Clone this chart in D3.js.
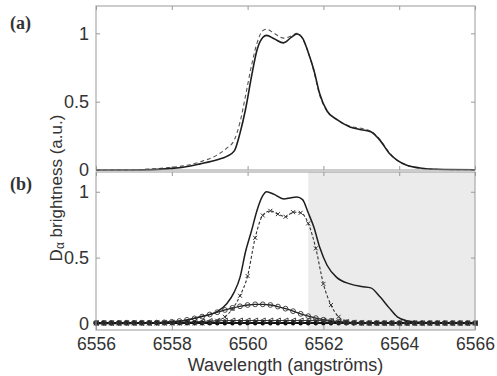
<!DOCTYPE html>
<html><head><meta charset="utf-8">
<script src="https://cdn.jsdelivr.net/npm/d3@7"></script>
<style>
html,body{margin:0;padding:0;background:#fff;}
svg{display:block;}
text{font-family:"Liberation Sans",Arial,sans-serif;fill:#333;}
</style></head>
<body>
<svg id="c" width="497" height="376"></svg>
<script>
// ---- data ----
const xTicks = [6556, 6558, 6560, 6562, 6564, 6566];
const yTicks = [0, 0.5, 1];
const shadeStart = 6561.6;

// panel (a): measured (solid) and fitted (dashed) spectra
const waveA = [6556,6557,6557.5,6558,6558.3,6558.75,6559.2,6559.45,6559.65,6559.8,6559.95,6560.1,6560.25,6560.4,6560.5,6560.7,6560.95,6561.15,6561.3,6561.45,6561.6,6561.75,6561.9,6562.1,6562.35,6562.7,6563.0,6563.25,6563.5,6563.73,6563.95,6564.2,6564.55,6565,6566];
const measuredA = [0,0,0.003,0.012,0.02,0.045,0.075,0.1,0.14,0.27,0.45,0.68,0.88,0.97,0.985,0.96,0.93,0.97,0.995,0.965,0.86,0.73,0.56,0.43,0.37,0.315,0.295,0.28,0.215,0.125,0.07,0.035,0.015,0.005,0.002];
const fittedA   = [0,0.002,0.008,0.02,0.03,0.06,0.11,0.16,0.22,0.35,0.55,0.76,0.93,1.02,1.03,1.0,0.965,0.98,1.0,0.96,0.86,0.72,0.55,0.43,0.37,0.32,0.305,0.285,0.22,0.13,0.07,0.035,0.013,0.004,0.002];

// panel (b): total spectrum (solid)
const totalB = [0,0,0.003,0.012,0.02,0.05,0.09,0.15,0.24,0.35,0.55,0.7,0.86,0.97,1.0,0.98,0.945,0.955,0.96,0.94,0.84,0.73,0.58,0.44,0.35,0.3,0.28,0.27,0.2,0.12,0.05,0.02,0.008,0.003,0];

// panel (b): component grid
const gridB = [6556,6556.2,6556.4,6556.6,6556.8,6557,6557.2,6557.4,6557.6,6557.8,6558,6558.2,6558.4,6558.6,6558.8,6559,6559.2,6559.4,6559.6,6559.8,6560,6560.2,6560.4,6560.6,6560.8,6561,6561.2,6561.4,6561.6,6561.8,6562,6562.2,6562.4,6562.6,6562.8,6563,6563.2,6563.4,6563.6,6563.8,6564,6564.2,6564.4,6564.6,6564.8,6565,6565.2,6565.4,6565.6,6565.8,6566];
const narrowB = [0,0,0,0,0,0,0,0,0,0,0,0,0,0,0,0.005,0.02,0.05,0.11,0.21,0.36,0.65,0.82,0.855,0.83,0.81,0.845,0.84,0.76,0.57,0.3,0.14,0.05,0.015,0.003,0,0,0,0,0,0,0,0,0,0,0,0,0,0,0,0];
const broadB  = [0.004,0.004,0.004,0.004,0.005,0.005,0.005,0.005,0.006,0.008,0.012,0.018,0.027,0.038,0.052,0.068,0.085,0.102,0.118,0.13,0.14,0.145,0.145,0.14,0.128,0.112,0.093,0.073,0.055,0.04,0.028,0.019,0.012,0.008,0.005,0.004,0.003,0.003,0.003,0.003,0.003,0.003,0.003,0.003,0.003,0.003,0.003,0.003,0.003,0.003,0.003];
const flatB   = [0.003,0.003,0.003,0.003,0.003,0.003,0.003,0.003,0.004,0.005,0.006,0.007,0.009,0.012,0.015,0.018,0.02,0.021,0.022,0.022,0.022,0.022,0.022,0.022,0.022,0.022,0.022,0.022,0.022,0.022,0.021,0.018,0.014,0.01,0.007,0.005,0.003,0.002,0.002,0.002,0.002,0.002,0.002,0.002,0.002,0.002,0.002,0.002,0.002,0.002,0.002];
const baseB   = [0.004,0.004,0.004,0.004,0.004,0.004,0.004,0.004,0.004,0.004,0.004,0.004,0.004,0.004,0.004,0.004,0.004,0.004,0.004,0.004,0.004,0.004,0.004,0.004,0.004,0.004,0.004,0.004,0.004,0.004,0.003,0.003,0.003,0.003,0.003,0.003,0.003,0.003,0.003,0.003,0.003,0.003,0.003,0.003,0.003,0.003,0.003,0.003,0.003,0.003,0.003];

// ---- layout ----
const svg = d3.select("#c");
const L = 96, R = 475;
const x = d3.scaleLinear([6556, 6566], [L, R]);
const ya = d3.scaleLinear([0, 1.2], [170, 6]);
const yb = d3.scaleLinear([-0.05, 1.15], [330, 172]);
const frame = "#9a9a9a";
const ink = "#1e1e1e";

function panel(y, showXLabels) {
  const [b, t] = y.range();
  const g = svg.append("g");
  g.append("g").attr("transform", `translate(${L},0)`)
    .call(d3.axisLeft(y).tickValues(yTicks).tickFormat(d => d).tickSizeInner(-4).tickSizeOuter(0).tickPadding(7))
    .call(s => { s.select(".domain").remove(); s.selectAll("line").attr("stroke", frame);
                 s.selectAll("text").style("font-size", "18px").attr("fill", "#333"); });
  g.append("g").attr("transform", `translate(${R},0)`)
    .call(d3.axisRight(y).tickValues(yTicks).tickFormat("").tickSizeInner(-4).tickSizeOuter(0))
    .call(s => { s.select(".domain").remove(); s.selectAll("line").attr("stroke", frame); });
  g.append("g").attr("transform", `translate(0,${t})`)
    .call(d3.axisTop(x).tickValues(xTicks).tickFormat("").tickSizeInner(-4).tickSizeOuter(0))
    .call(s => { s.select(".domain").remove(); s.selectAll("line").attr("stroke", frame); });
  g.append("g").attr("transform", `translate(0,${b})`)
    .call(d3.axisBottom(x).tickValues(xTicks).tickFormat(showXLabels ? (d => d) : "").tickSizeInner(-4).tickSizeOuter(0).tickPadding(8))
    .call(s => { s.select(".domain").remove(); s.selectAll("line").attr("stroke", frame);
                 s.selectAll("text").style("font-size", "17.5px").attr("fill", "#333"); });
  return g;
}

function frameRect(y) {
  const [b, t] = y.range();
  svg.append("rect").attr("x", L).attr("y", t).attr("width", R - L).attr("height", b - t)
    .attr("fill", "none").attr("stroke", frame).attr("stroke-width", 1);
}

// shaded region in (b)
svg.append("rect").attr("x", x(shadeStart)).attr("y", yb.range()[1])
  .attr("width", x(6566) - x(shadeStart)).attr("height", yb.range()[0] - yb.range()[1])
  .attr("fill", "#ebebeb");

panel(ya, false);
panel(yb, true);

const lineA = (vals, y) => d3.line().x((d, i) => x(waveA[i])).y(d => y(d)).curve(d3.curveMonotoneX)(vals);
const lineG = (vals, y) => d3.line().x((d, i) => x(gridB[i])).y(d => y(d)).curve(d3.curveMonotoneX)(vals);

// panel (a)
svg.append("path").attr("d", lineA(fittedA, ya)).attr("fill", "none").attr("stroke", "#555").attr("stroke-width", 1.1).attr("stroke-dasharray", "4,3");
svg.append("path").attr("d", lineA(measuredA, ya)).attr("fill", "none").attr("stroke", ink).attr("stroke-width", 1.6);

// panel (b)
svg.append("path").attr("d", lineA(totalB, yb)).attr("fill", "none").attr("stroke", ink).attr("stroke-width", 1.5);
svg.append("path").attr("d", lineG(narrowB, yb)).attr("fill", "none").attr("stroke", "#333").attr("stroke-width", 1.1).attr("stroke-dasharray", "3,2");
svg.append("path").attr("d", lineG(broadB, yb)).attr("fill", "none").attr("stroke", "#222").attr("stroke-width", 1.3);
svg.append("path").attr("d", lineG(flatB, yb)).attr("fill", "none").attr("stroke", "#333").attr("stroke-width", 1);
svg.append("path").attr("d", lineG(baseB, yb)).attr("fill", "none").attr("stroke", "#111").attr("stroke-width", 2);

// markers
const mk = svg.append("g");
mk.selectAll(".dot").data(baseB).join("ellipse")
  .attr("cx", (d, i) => x(gridB[i])).attr("cy", d => yb(d)).attr("rx", 2.2).attr("ry", 2.6).attr("fill", "#111");
mk.selectAll(".tri").data(flatB).join("path")
  .attr("transform", (d, i) => `translate(${x(gridB[i])},${yb(d)})`)
  .attr("d", "M-2.5,0L2.5,-2.5L2.5,2.5Z").attr("fill", "none").attr("stroke", "#333").attr("stroke-width", 0.9);
mk.selectAll(".circ").data(broadB).join("circle")
  .attr("cx", (d, i) => x(gridB[i])).attr("cy", d => yb(d)).attr("r", 2.4)
  .attr("fill", "none").attr("stroke", "#333").attr("stroke-width", 0.9);
mk.selectAll(".cross").data(narrowB).join("path")
  .attr("transform", (d, i) => `translate(${x(gridB[i])},${yb(d)})`)
  .attr("d", "M-2,-2L2,2M-2,2L2,-2").attr("stroke", "#333").attr("stroke-width", 1);

frameRect(ya);
frameRect(yb);

// labels
svg.append("text").attr("x", 10).attr("y", 29).text("(a)")
  .style("font-family", "'Liberation Serif','Times New Roman',serif").style("font-weight", "bold").style("font-size", "18px").attr("fill", "#333");
svg.append("text").attr("x", 10).attr("y", 190).text("(b)")
  .style("font-family", "'Liberation Serif','Times New Roman',serif").style("font-weight", "bold").style("font-size", "18px").attr("fill", "#333");

const yl = svg.append("text").attr("transform", "translate(62,188) rotate(-90)").attr("text-anchor", "middle").style("font-size", "17px");
yl.append("tspan").text("D");
yl.append("tspan").text("α").style("font-size", "12px").attr("dy", 2);
yl.append("tspan").text(" brightness (a.u.)").attr("dy", -2);

svg.append("text").attr("x", (L + R) / 2).attr("y", 371).attr("text-anchor", "middle").style("font-size", "18px").text("Wavelength (angströms)");
</script>
</body></html>
